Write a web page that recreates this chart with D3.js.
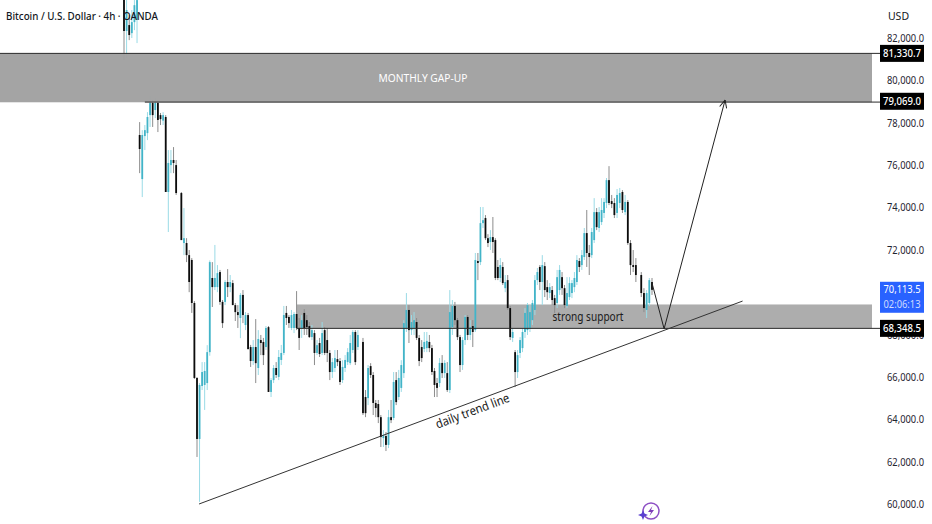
<!DOCTYPE html>
<html><head><meta charset="utf-8">
<script src="https://cdnjs.cloudflare.com/ajax/libs/d3/7.8.5/d3.min.js"></script>
<style>html,body{margin:0;padding:0;background:#fff}svg{display:block}text{font-family:"Noto Sans",sans-serif}</style>
</head><body><div id="chart"></div>
<script>
// Row format: bar number, open, high, low, close (price in USD thousands)
const topLeg=[[0,85.2,86,80.96,82.33],[1,82.33,84.26,81.05,83.32],[2,82.61,83.08,81.9,82.14],[3,82.23,83.32,82,82.75],[4,82.75,84.26,82.37,83.55],[5,82.85,85.5,81.76,83.79]];
const dropLeg=[[6,77.42,78.03,75.62,76.76],[7,75.34,77.65,74.49,77.42],[8,77.37,77.89,76.71,77.65],[9,77.51,78.5,77.18,78.27],[10,78.36,79.26,77.8,78.93],[11,78.93,79.07,77.8,78.36],[12,78.6,79.16,78.22,78.93],[13,78.93,79.07,77.56,78.13],[14,78.36,78.46,77.89,78.17],[15,78.1,78.5,77.89,78.36],[16,78.27,78.36,74.73,74.73],[17,74.73,76.71,72.84,76.1],[18,76,76.71,75.62,76.24],[19,76.24,76.85,75.62,76.1],[20,76,76.24,74.59,74.68],[22,74.68,74.73,72.46,72.46],[23,72.32,73.97,71.75,72.55],[24,72.32,72.55,71.42,71.75],[25,71.75,71.99,70,70.48],[26,71.52,71.61,69.02,69.49],[27,69.49,69.58,65.9,65.95],[28,65.95,65.99,62.22,63.07],[29,63.07,65.71,60.1,65.62]];
const reboundLeg=[[30,65.57,66.7,65.38,66.23],[31,65.62,66.7,64.44,66.28],[32,65.71,67.5,65.38,67.17],[33,67.17,71.5,67,71.42],[34,70.67,71.42,69.3,70.24],[35,70.24,72.23,70.1,70.67],[36,70.24,71.28,70,70.9],[37,70.95,71.05,69.4,69.54],[38,69.54,69.63,68.31,68.54],[39,69.54,70.57,69.39,70.48],[40,70.48,71.09,69.77,70.24],[41,70.24,70.81,70,70.48],[42,70.43,70.57,69.39,69.39],[43,69.39,69.49,68.64,69.06],[44,69.06,69.39,68.31,68.92],[45,68.78,69.96,67.83,69.87],[46,69.87,70.1,68.54,68.92],[47,68.45,69.06,68.21,68.92],[48,68.92,69.02,67.31,67.31],[49,67.41,67.51,66.47,66.75],[50,66.75,67.74,66.56,67.41],[51,67.41,68.73,65.71,66.65],[52,66.42,68.21,66.09,67.79],[53,67.74,67.98,67.03,67.6],[54,67.65,67.84,66.56,67.03],[55,67.41,68.4,67.27,68.31],[56,68.35,68.4,65.29,65.29]];
const rangeLeg=[[57,65.29,65.95,65.05,65.85],[58,65.85,66.56,65.71,66.42],[59,66.42,66.7,65.95,66.09],[60,66,67.27,65.85,66.94],[61,66.8,67.51,66.56,67.13],[62,67.13,69.35,67.03,68.92],[63,69.02,69.35,68.45,68.78],[64,68.83,68.92,68.31,68.54],[65,68.31,69.16,68.21,68.92],[66,68.31,69.06,68.07,68.97],[67,68.97,70.05,68.21,68.31],[68,68.31,68.78,67.27,67.84],[69,68.31,68.92,67.84,68.68],[70,69.02,69.2,67.98,68.31],[71,68.68,68.92,67.98,68.35],[72,68.4,68.59,67.84,67.88],[73,67.88,68.45,67.74,68.21],[74,68.07,68.21,66.56,67.13],[75,67.13,67.74,67.03,67.5],[76,67.6,67.84,66.94,67.08],[77,67.13,68.59,67.03,68.07],[78,68.21,68.35,67.03,67.13],[79,67.74,68.31,66.7,67.13],[80,67.13,67.27,65.85,66.23],[81,66.23,66.89,65.95,66.7],[82,66.42,67.27,66.23,66.89],[83,66.84,67.27,66.51,66.7],[84,66.75,66.89,65.62,65.76],[85,65.85,66.79,65.71,66.47],[86,66.42,67.03,66.23,66.8],[87,66.7,67.36,66.56,67.17],[88,66.65,67.98,66.56,67.6],[89,67.27,68.21,67.13,68.12],[90,68.12,68.21,66.56,66.7],[91,67.41,68.21,67.27,67.98]];
const dipLeg=[[93,67.65,67.84,64.2,64.29],[94,65.05,65.38,64.1,64.29],[95,65,66.56,64.67,66.42],[96,66.51,66.65,65.95,66.09],[97,66.09,66.23,64.2,64.77],[98,64.77,64.91,64.1,64.53],[99,64.72,64.91,63.82,64.1],[100,64.1,64.2,62.69,63.16],[101,63.11,63.49,62.69,63.26],[102,63.21,63.4,62.5,62.79],[103,62.79,64.44,62.64,64.1],[104,64.1,64.91,63.82,63.96],[105,64.06,66.23,63.96,65.76],[106,65.85,66.23,64.67,64.81],[107,65.05,66.33,64.91,65.95],[108,65.48,66.79,65.29,66.56],[109,66.18,68.68,65.95,68.54],[110,68.31,69.96,68.12,69.16],[111,69.16,69.39,67.6,68.21],[112,68.21,68.92,67.98,68.59],[113,68.31,69.06,67.98,68.68],[114,68.59,68.78,67.74,67.84],[115,67.84,67.98,66.51,66.75],[116,67.41,67.74,66.7,66.89],[117,67.32,68.12,67.17,67.65],[118,67.36,68.12,67.17,67.7],[119,67.65,67.98,67.17,67.36],[120,67.36,67.51,66.09,66.23],[121,66.28,66.42,65.05,65.62],[122,65.71,65.95,65.05,65.48],[123,65.71,66.89,65.52,66.66],[124,66.66,67.03,65.95,66.18],[125,66.18,66.79,65.95,66.66],[126,66.18,66.7,65.29,65.38],[127,65.38,70.1,65.24,69.06]];
const riseLeg=[[128,68.35,69.63,67.98,69.35],[129,69.35,69.54,68.45,68.68],[130,68.68,68.78,67.74,67.88],[131,67.88,67.98,66.23,66.56],[132,66.56,67.88,66.33,67.74],[133,67.74,68.92,67.51,68.83],[134,68.83,68.92,67.74,67.98],[135,67.98,68.68,67.74,68.35],[136,68.4,68.68,67.41,68.12],[137,68.21,71.85,68.12,71.52],[138,71.47,71.85,70.57,71.38],[139,71.42,74.02,71.28,73.26],[140,73.26,74.02,73.03,73.4],[141,73.5,73.64,72.46,72.55],[142,72.55,72.74,72.13,72.32],[143,72.37,72.93,71.99,72.6],[144,72.6,73.55,71.85,72.37],[145,72.46,72.55,70.57,70.67],[146,71.19,71.52,70.57,70.67],[147,70.67,71.61,70.48,71.28],[148,71.19,71.42,70.34,70.43],[149,70.19,70.81,70,70.48],[150,70.57,70.81,69.16,69.25],[151,69.25,69.35,67.74,67.88],[152,67.84,68.31,67.65,68.12],[153,67.17,67.27,65.52,66.23],[154,66.23,67.27,65.95,67.03],[155,67.13,67.88,66.89,67.74],[156,67.36,68.31,67.17,68.12],[157,68.12,69.25,67.84,69.02],[158,68.21,69.49,67.98,69.39],[159,68.31,69.39,68.12,69.06],[160,68.68,69.63,68.45,69.49],[161,69.16,70.81,68.92,70.57],[162,70.57,71.14,70.34,70.95],[163,71.19,71.28,70.1,70.48],[164,70.48,71.75,69.39,71.28],[165,71.23,71.42,69.77,70.1],[166,70.24,70.57,69.63,70],[167,69.96,70.43,69.72,70.24],[168,70.1,70.29,69.39,69.63],[169,69.72,69.87,69.02,69.39],[170,69.49,71.05,69.25,70.71],[171,70.1,71.28,69.87,71.05],[172,70.71,70.95,69.87,70.19],[173,70.19,70.34,69.25,69.39],[174,69.35,70.71,69.25,69.96],[175,69.77,70.71,69.63,70.43],[176,69.96,70.57,69.72,70.43],[177,70.24,70.95,70,70.67],[178,70.48,71.75,70.34,71.52],[179,71.47,71.61,70.95,71.19],[180,71.28,71.99,71.05,71.75],[181,71.66,73.03,71.52,72.79],[182,72.79,73.88,71.19,71.85],[183,71.85,72.23,70.81,71.66],[184,71.75,73.03,71.61,72.84],[185,72.46,74.44,72.32,73.78],[186,73.78,73.97,72.93,73.07],[187,73.03,74.02,72.84,73.78],[188,73.31,74.44,73.17,73.88],[189,73.74,74.44,73.5,74.26],[190,74.21,75.39,73.97,75.29],[191,75.29,75.95,74.11,74.21]];
const fallLeg=[[192,74.3,74.59,73.97,74.16],[193,74.21,74.44,73.5,73.64],[194,73.74,74.87,73.5,74.59],[195,74.21,74.92,73.97,74.68],[196,74.73,74.82,73.74,73.88],[197,73.78,74.59,73.64,74.26],[198,74.26,74.35,72.23,72.32],[199,72.32,72.46,70.81,71.28],[200,71.28,71.99,70.95,71.19],[201,71.28,71.61,70.48,70.81],[203,70.81,70.95,69.77,69.96],[204,69.96,70.19,69.06,69.25],[205,69.16,70.1,68.78,69.96],[206,69.49,70.67,69.35,70.57],[207,70.48,70.67,69.87,70.11]];
const candleLegs=[topLeg,dropLeg,reboundLeg,rangeLeg,dipLeg,riseLeg,fallLeg];

const tickPrices=[60,62,64,66,68,72,74,76,78,80,82];
const gapZone=[79.069,81.3307];
const supportZone=[68.3485,69.42];
const trendBars=[28.8,240.7], trendPrices=[60,69.58];
const arrowBars=[207,211.5,234.2], arrowPrices=[70.43,68.27,79.07];
const priceTags=[81.3307,79.069,68.3485];
const lastPrice=70.1135, countdown="02:06:13";
const titleText="Bitcoin / U.S. Dollar · 4h · OANDA";

const W=932,H=524;
const x=d3.scaleLinear().domain([0,28,140,191,207]).range([124,197,483,609,652]);
const y=d3.scaleLinear().domain([60,82]).range([504,38]);
const usd=d3.format(",.1f"), label=k=>usd(k*1000);
const plotRight=872, tagLeft=880, tagWidth=44, tagShift=1.2;
const svg=d3.select("#chart").append("svg").attr("width",W).attr("height",H);
svg.append("rect").attr("width",W).attr("height",H).attr("fill","#fff");
const defs=svg.append("defs");
defs.append("marker").attr("id","head").attr("viewBox","0 0 10 10").attr("refX",9.5).attr("refY",5)
 .attr("markerWidth",9).attr("markerHeight",9).attr("markerUnits","userSpaceOnUse").attr("orient","auto")
 .append("path").attr("d","M1 1L9.5 5L1 9").attr("fill","none").attr("stroke","#222").attr("stroke-width",1.1);

svg.append("rect").attr("x",x(67)).attr("y",y(supportZone[1])).attr("width",plotRight-x(67))
 .attr("height",y(supportZone[0])+tagShift-y(supportZone[1])).attr("fill","#adadad");

const rows=candleLegs.flat();
const UP="#42b4c8",UPW="#9adbe6",DN="#0c0c0c",DNW="#8c8c8c";
const c=svg.append("g");
c.selectAll("line").data(rows).join("line")
 .attr("x1",d=>x(d[0])).attr("x2",d=>x(d[0]))
 .attr("y1",d=>y(d[2])).attr("y2",d=>y(d[3]))
 .attr("stroke",d=>d[4]>=d[1]?UPW:DNW).attr("stroke-width",1);
c.selectAll("rect").data(rows).join("rect")
 .attr("x",d=>x(d[0])-.9).attr("width",1.8)
 .attr("y",d=>y(Math.max(d[1],d[4])))
 .attr("height",d=>Math.max(1,Math.abs(y(d[1])-y(d[4]))))
 .attr("fill",d=>d[4]>=d[1]?UP:DN);

svg.append("rect").attr("x",0).attr("y",y(gapZone[1])+tagShift).attr("width",plotRight)
 .attr("height",y(gapZone[0])-y(gapZone[1])+1).attr("fill","#a0a0a0").attr("opacity",.96);
const rule=(a,b,py,s)=>svg.append("line").attr("x1",a).attr("x2",b).attr("y1",y(py)+s).attr("y2",y(py)+s).attr("stroke","#2a2a2a").attr("stroke-width",1);
rule(0,tagLeft,gapZone[1],tagShift);
rule(x(8),tagLeft,gapZone[0],tagShift+.8);
rule(x(67),tagLeft,supportZone[0],tagShift);

const line=d3.line().x(d=>x(d[0])).y(d=>y(d[1]));
svg.append("path").attr("d",line(d3.zip(trendBars,trendPrices))).attr("fill","none").attr("stroke","#333").attr("stroke-width",1);
svg.append("path").attr("d",line(d3.zip(arrowBars,arrowPrices))).attr("fill","none").attr("stroke","#222").attr("stroke-width",1).attr("marker-end","url(#head)");

svg.append("text").attr("x",423).attr("y",82).attr("text-anchor","middle").attr("fill","#fff").attr("font-size",11.5)
 .attr("textLength",89).attr("lengthAdjust","spacingAndGlyphs").text("MONTHLY GAP-UP");
svg.append("text").attr("x",588).attr("y",321).attr("text-anchor","middle").attr("fill","#1a1a1a").attr("font-size",12.5)
 .attr("textLength",71).attr("lengthAdjust","spacingAndGlyphs").text("strong support");
svg.append("text").attr("transform","translate(474,415) rotate(-20.5)").attr("text-anchor","middle").attr("fill","#1a1a1a").attr("font-size",12.5)
 .attr("textLength",78).attr("lengthAdjust","spacingAndGlyphs").text("daily trend line");

const axis=d3.axisRight(y).tickValues(tickPrices).tickSize(0).tickFormat(label);
const ag=svg.append("g").attr("transform","translate(884,0)").call(axis);
ag.select(".domain").remove();
ag.selectAll("text").attr("x",3).attr("font-size",11).attr("fill","#1f2430")
 .attr("textLength",37).attr("lengthAdjust","spacingAndGlyphs").style("font-family",'"Noto Sans",sans-serif');

const tags=svg.append("g").selectAll("g").data(priceTags).join("g").attr("transform",d=>`translate(${tagLeft},${y(d)+tagShift})`);
tags.append("rect").attr("y",-8.5).attr("width",tagWidth).attr("height",17).attr("fill","#000");
tags.append("text").attr("x",tagWidth/2).attr("y",4).attr("text-anchor","middle").attr("fill","#fff").attr("font-size",11).attr("font-weight",500)
 .attr("textLength",38).attr("lengthAdjust","spacingAndGlyphs").text(label);
const lastG=svg.append("g").attr("transform",`translate(${tagLeft},${y(lastPrice)})`);
lastG.append("rect").attr("y",-8).attr("width",tagWidth).attr("height",31).attr("fill","#2962ff");
lastG.append("text").attr("x",tagWidth/2).attr("y",3.5).attr("text-anchor","middle").attr("fill","#fff").attr("font-size",10.2)
 .attr("textLength",37).attr("lengthAdjust","spacingAndGlyphs").text(label(lastPrice));
lastG.append("text").attr("x",tagWidth/2).attr("y",18).attr("text-anchor","middle").attr("fill","#cfdcff").attr("font-size",10.2)
 .attr("textLength",37).attr("lengthAdjust","spacingAndGlyphs").text(countdown);

svg.append("text").attr("x",6).attr("y",20).attr("fill","#131722").attr("font-size",11.5).attr("font-weight",500)
 .attr("textLength",152).attr("lengthAdjust","spacingAndGlyphs").text(titleText);
svg.append("text").attr("x",898.5).attr("y",20).attr("text-anchor","middle").attr("fill","#131722").attr("font-size",10.5).text("USD");

const b=svg.append("g").attr("transform","translate(651,511)");
b.append("circle").attr("r",8).attr("fill","none").attr("stroke","#8d4fc4").attr("stroke-width",1.5);
b.append("path").attr("d","M1.5 -5L-3 1H0L-1.5 5L3 -1H0Z").attr("fill","#7d3cb8");
b.append("path").attr("d","M-8 -1L-6.6 2.6L-3 4L-6.6 5.4L-8 9L-9.4 5.4L-13 4L-9.4 2.6Z").attr("fill","#5b3fd0");
</script></body></html>
